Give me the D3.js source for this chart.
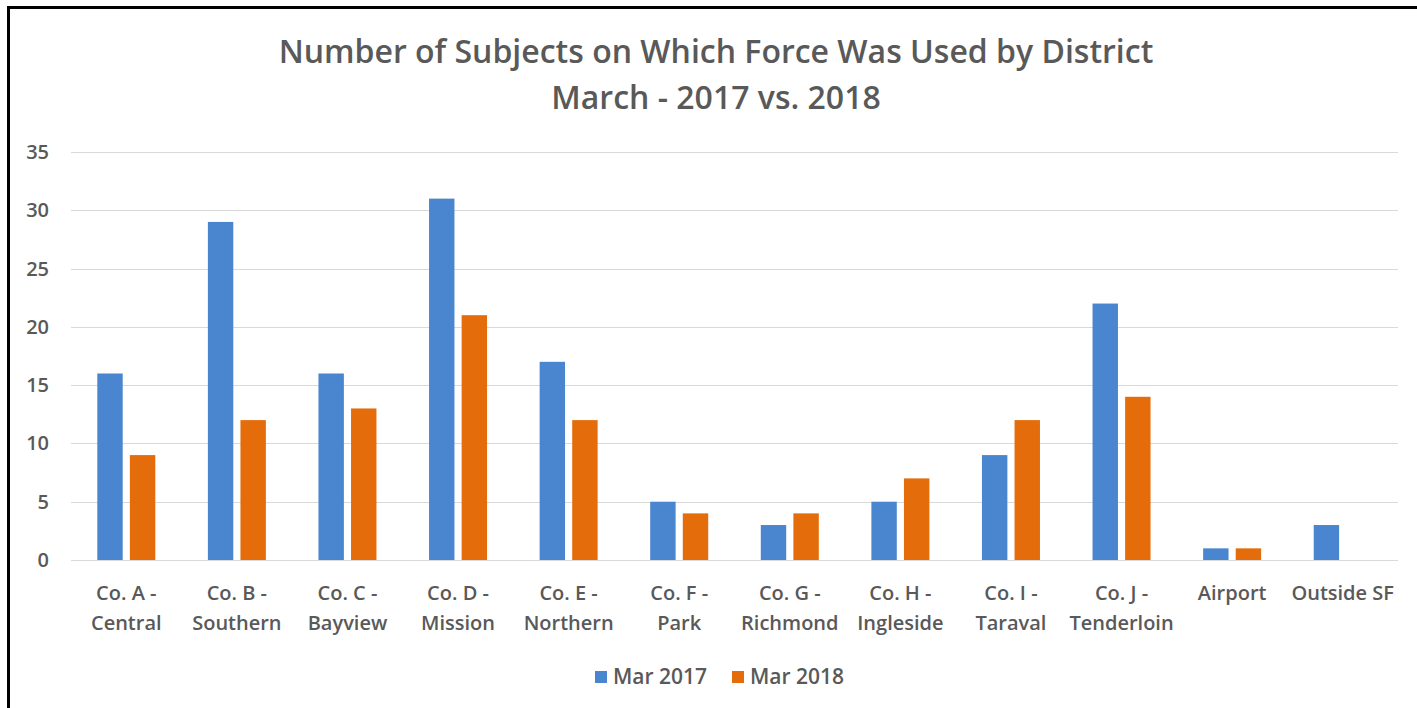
<!DOCTYPE html>
<html>
<head>
<meta charset="utf-8">
<script src="https://cdn.jsdelivr.net/npm/d3@7"></script>
<style>
  body { margin: 0; background: #fff; }
  svg { display: block; font-family: "Open Sans", Lato, sans-serif; }
</style>
</head>
<body>
<div class="d3"></div>
<script>
// districts (two-line labels)
var districts = [
  ["Co. A -", "Central"], ["Co. B -", "Southern"], ["Co. C -", "Bayview"],
  ["Co. D -", "Mission"], ["Co. E -", "Northern"], ["Co. F -", "Park"],
  ["Co. G -", "Richmond"], ["Co. H -", "Ingleside"], ["Co. I -", "Taraval"],
  ["Co. J -", "Tenderloin"], ["Airport"], ["Outside SF"]
];
var seriesNames = ["Mar 2017", "Mar 2018"];
var mar2017 = [16, 29, 16, 31, 17, 5, 3, 5, 9, 22, 1, 3];
var mar2018 = [9, 12, 13, 21, 12, 4, 4, 7, 12, 14, 1, 0];
var yTicks = [0, 5, 10, 15, 20, 25, 30, 35];
var colors = ["#4a86cf", "#e46c0a"];

var w = 1417, h = 708;
var padL = 71, padR = 1398, padT = 152, padB = 560;

var svg = d3.select(".d3").append("svg")
  .attr("width", w).attr("height", h);

// black frame (top + left)
svg.append("line").attr("x1", 7).attr("x2", w).attr("y1", 7.5).attr("y2", 7.5)
  .attr("stroke", "#000").attr("stroke-width", 3);
svg.append("line").attr("x1", 8.5).attr("x2", 8.5).attr("y1", 6).attr("y2", h)
  .attr("stroke", "#000").attr("stroke-width", 3);

var keys = districts.map((d, i) => i);
var xScale = d3.scaleBand().domain(keys).range([padL, padR]);
var yScale = d3.scaleLinear().domain([0, 35]).range([padB, padT]);

// gridlines
svg.append("g").selectAll("line").data(yTicks).enter().append("line")
  .attr("x1", padL).attr("x2", padR)
  .attr("y1", d => Math.round(yScale(d)) + 0.5)
  .attr("y2", d => Math.round(yScale(d)) + 0.5)
  .attr("stroke", "#d9d9d9").attr("stroke-width", 1);

// y axis labels
svg.append("g").selectAll("text").data(yTicks).enter().append("text")
  .attr("x", 49).attr("y", d => yScale(d)).attr("dy", "0.35em")
  .attr("text-anchor", "end").attr("fill", "#595959").attr("font-size", 20)
  .attr("font-weight", 600)
  .text(d => d);

// bars
var data = [];
keys.forEach(i => {
  data.push({ k: i, s: 0, v: mar2017[i] });
  data.push({ k: i, s: 1, v: mar2018[i] });
});
var x1 = d3.scaleBand().domain([0, 1]).range([-29, 29]).paddingInner(0.22);

svg.append("g").selectAll("rect").data(data.filter(d => d.v > 0)).enter().append("rect")
  .attr("x", d => xScale(d.k) + xScale.bandwidth() / 2 + x1(d.s))
  .attr("y", d => yScale(d.v))
  .attr("width", x1.bandwidth())
  .attr("height", d => yScale(0) - yScale(d.v))
  .attr("fill", d => colors[d.s]);

// x labels
var xl = svg.append("g").selectAll("text").data(keys).enter().append("text")
  .attr("x", d => xScale(d) + xScale.bandwidth() / 2)
  .attr("y", 600)
  .attr("text-anchor", "middle").attr("fill", "#595959").attr("font-size", 20)
  .attr("font-weight", 600);
xl.selectAll("tspan").data(d => districts[d].map(t => ({ t: t, x: xScale(d) + xScale.bandwidth() / 2 })))
  .enter().append("tspan")
  .attr("x", t => t.x).attr("dy", (t, j) => j ? 30 : 0)
  .text(t => t.t);

// title
svg.append("text").attr("x", 716).attr("y", 63).attr("text-anchor", "middle")
  .attr("fill", "#595959").attr("font-size", 32).attr("font-weight", 600)
  .text("Number of Subjects on Which Force Was Used by District");
svg.append("text").attr("x", 716).attr("y", 109).attr("text-anchor", "middle")
  .attr("fill", "#595959").attr("font-size", 32).attr("font-weight", 600)
  .text("March - 2017 vs. 2018");

// legend
var legend = svg.append("g").selectAll("g").data(seriesNames).enter().append("g")
  .attr("transform", (d, i) => "translate(" + (595 + i * 137) + ",671)");
legend.append("rect").attr("width", 12).attr("height", 12).attr("fill", (d, i) => colors[i]);
legend.append("text").attr("x", 18).attr("y", 6).attr("dy", "0.35em")
  .attr("fill", "#595959").attr("font-size", 21).attr("font-weight", 600).text(d => d);
</script>
</body>
</html>
